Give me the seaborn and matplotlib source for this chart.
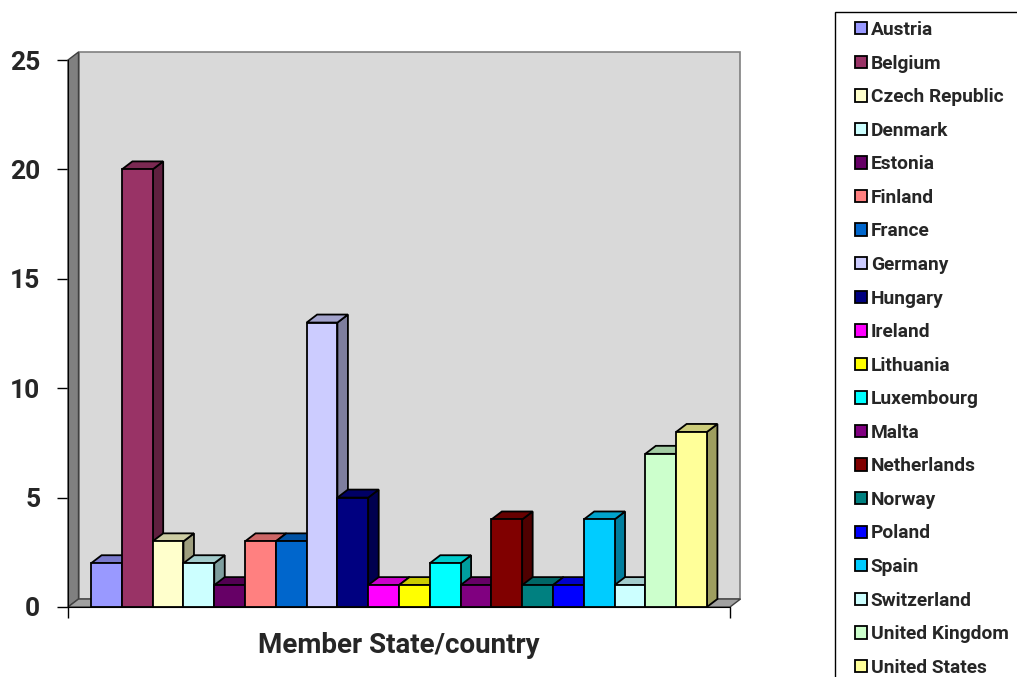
import matplotlib
matplotlib.use("Agg")
import matplotlib.pyplot as plt
import seaborn as sns
from matplotlib.patches import Polygon, Rectangle, Patch
import matplotlib.colors as mcolors

countries = ["Austria", "Belgium", "Czech Republic", "Denmark", "Estonia", "Finland",
             "France", "Germany", "Hungary", "Ireland", "Lithuania", "Luxembourg",
             "Malta", "Netherlands", "Norway", "Poland", "Spain", "Switzerland",
             "United Kingdom", "United States"]
values = [2, 20, 3, 2, 1, 3, 3, 13, 5, 1, 1, 2, 1, 4, 1, 1, 4, 1, 7, 8]
colors = ["#9999FF", "#993366", "#FFFFCC", "#CCFFFF", "#660066", "#FF8080",
          "#0066CC", "#CCCCFF", "#000080", "#FF00FF", "#FFFF00", "#00FFFF",
          "#800080", "#800000", "#008080", "#0000FF", "#00CCFF", "#CCFFFF",
          "#CCFFCC", "#FFFF99"]
yticks = [0, 5, 10, 15, 20, 25]
xlabel = "Member State/country"

sns.set_style("white")
plt.rcParams["font.family"] = ["Roboto", "DejaVu Sans"]

W, H = 1017, 677
fig = plt.figure(figsize=(W / 100, H / 100), dpi=100)
ax_l, ax_r, ax_b, ax_t = 68, 730, 607, 60  # pixel frame (from top for y)
ax = fig.add_axes([ax_l / W, (H - ax_b) / H, (ax_r - ax_l) / W, (ax_b - ax_t) / H])

sns.barplot(x=countries, y=values, hue=countries, palette=colors, width=1,
            edgecolor="black", linewidth=1.3, saturation=1, legend=False, ax=ax)

xmin, xmax = -1.25, len(countries) - 1 + 1.25
ax.set_xlim(xmin, xmax)
ax.set_ylim(0, 25)

# depth in data units
dx_px, dy_px = 10.5, 8.0
dxd = dx_px / ((ax_r - ax_l) / (xmax - xmin))
dyd = dy_px / ((ax_b - ax_t) / 25.0)

def shade(c, f):
    r, g, b = mcolors.to_rgb(c)
    return (r * f, g * f, b * f)

# walls
ax.add_patch(Polygon([(xmin + dxd, dyd), (xmax + dxd, dyd), (xmax + dxd, 25 + dyd),
                      (xmin + dxd, 25 + dyd)], closed=True, facecolor="#D9D9D9",
                     edgecolor="#808080", linewidth=1.2, zorder=0.5, clip_on=False))
ax.add_patch(Polygon([(xmin, 0), (xmin + dxd, dyd), (xmin + dxd, 25 + dyd), (xmin, 25)],
                     closed=True, facecolor="#808080", edgecolor="#404040",
                     linewidth=1.0, zorder=0.6, clip_on=False))
ax.add_patch(Polygon([(xmin, 0), (xmax, 0), (xmax + dxd, dyd), (xmin + dxd, dyd)],
                     closed=True, facecolor="#A0A0A0", edgecolor="#404040",
                     linewidth=1.0, zorder=0.6, clip_on=False))

bars = list(ax.patches)[:len(countries)]
for i, (bar, c) in enumerate(zip(bars, colors)):
    x0 = bar.get_x()
    w = bar.get_width()
    h = bar.get_height()
    z = 2 + i * 0.1
    bar.set_zorder(z + 0.05)
    bar.set_clip_on(False)
    side = Polygon([(x0 + w, 0), (x0 + w + dxd, dyd), (x0 + w + dxd, h + dyd), (x0 + w, h)],
                   closed=True, facecolor=shade(c, 0.62), edgecolor="black",
                   linewidth=1.3, zorder=z, clip_on=False)
    top = Polygon([(x0, h), (x0 + w, h), (x0 + w + dxd, h + dyd), (x0 + dxd, h + dyd)],
                  closed=True, facecolor=shade(c, 0.8), edgecolor="black",
                  linewidth=1.3, zorder=z, clip_on=False)
    ax.add_patch(side)
    ax.add_patch(top)

ax.patch.set_visible(False)
for s in ["top", "right"]:
    ax.spines[s].set_visible(False)
ax.spines["left"].set_color("black")
ax.spines["bottom"].set_color("black")
ax.spines["left"].set_zorder(1)
ax.spines["bottom"].set_zorder(1)

ax.set_yticks(yticks)
ax.set_yticklabels([str(t) for t in yticks], fontsize=19, fontweight="bold")
ax.set_xticks([xmin, xmax])
ax.set_xticklabels(["", ""])
ax.tick_params(axis="both", direction="out", length=8, width=1, color="black",
               left=True, bottom=True, pad=12)
ax.set_xlabel(xlabel, fontsize=20, fontweight="bold", labelpad=-2)
ax.set_ylabel("")

# legend frame
fig.patches.append(Rectangle((835 / W, -0.05), 0.3, (H - 12) / H + 0.05,
                             transform=fig.transFigure, facecolor="white",
                             edgecolor="black", linewidth=1.0, zorder=0))
handles = [Patch(facecolor=c, edgecolor="black", linewidth=1.3) for c in colors]
leg = fig.legend(handles, countries, loc="upper left",
                 bbox_to_anchor=(855 / W, (H - 21) / H), bbox_transform=fig.transFigure,
                 frameon=False, prop={"size": 13.75, "weight": "bold"},
                 handlelength=0.62, handleheight=0.62, handletextpad=0.2,
                 labelspacing=0.815, borderaxespad=0, borderpad=0)

fig.savefig("out.png", dpi=100, facecolor="white")
